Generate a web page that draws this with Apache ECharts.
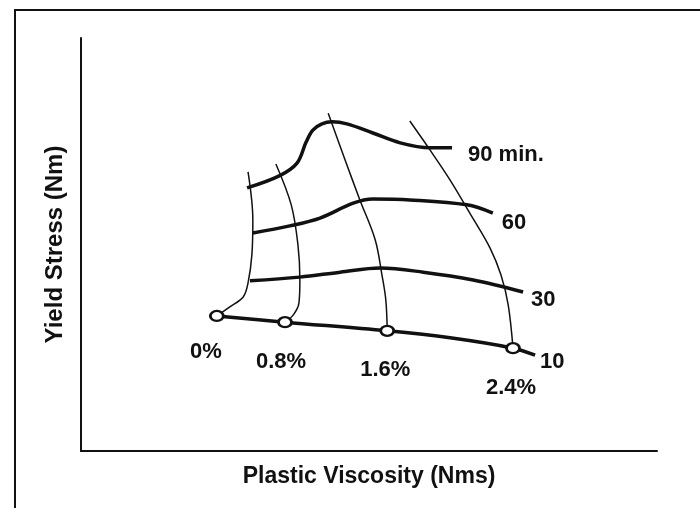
<!DOCTYPE html>
<html>
<head>
<meta charset="utf-8">
<script src="https://cdn.jsdelivr.net/npm/echarts@6/dist/echarts.min.js"></script>
<style>
  html, body { margin: 0; padding: 0; background: #fff; }
  #chart { width: 700px; height: 508px; }
</style>
</head>
<body>
<div id="chart"></div>
<script>
// curves of equal time (thick) - [plastic viscosity, yield stress], arbitrary units
const timeLabels = ['10', '30', '60', '90 min.'];
const time10 = [[2.83, 3.27], [4.25, 3.12], [6.38, 2.91], [7.69, 2.74], [9.00, 2.49], [9.46, 2.32]];
const time30 = [[3.52, 4.12], [4.56, 4.21], [5.40, 4.33], [6.23, 4.43], [7.13, 4.33], [8.17, 4.14], [9.21, 3.85]];
const time60 = [[3.58, 5.28], [4.35, 5.45], [4.98, 5.64], [5.67, 6.00], [6.08, 6.10], [6.85, 6.08], [8.04, 5.96], [8.58, 5.76]];
const time90 = [[3.46, 6.37], [4.13, 6.66], [4.50, 6.97], [4.69, 7.48], [4.83, 7.77], [5.02, 7.92], [5.23, 7.97],
                [5.54, 7.92], [6.08, 7.70], [6.65, 7.46], [7.27, 7.34], [7.73, 7.34]];

// curves of equal dosage (thin)
const pctLabels = ['0%', '0.8%', '1.6%', '2.4%'];
const pct00 = [[2.83, 3.27], [3.10, 3.49], [3.38, 3.73], [3.48, 4.07], [3.56, 4.75], [3.58, 5.59], [3.48, 6.76]];
const pct08 = [[4.25, 3.12], [4.42, 3.29], [4.54, 3.58], [4.56, 4.14], [4.52, 4.99], [4.38, 5.96], [4.06, 6.95]];
const pct16 = [[6.38, 2.91], [6.35, 3.66], [6.27, 4.26], [6.13, 5.11], [5.81, 6.08], [5.50, 7.05], [5.15, 8.18]];
const pct24 = [[9.00, 2.49], [8.90, 3.54], [8.75, 4.26], [8.52, 4.92], [8.10, 5.76], [7.69, 6.56], [7.27, 7.29], [6.85, 7.99]];

// measured points at 10 min
const startPoints = [[2.83, 3.27], [4.25, 3.12], [6.38, 2.91], [9.00, 2.49]];

const font = '"Liberation Sans", Arial, sans-serif';
const ink = '#111';

const chart = echarts.init(document.getElementById('chart'));

// label placement for each curve end (style only)
const timeLabelStyle = [
  { distance: 5, offset: [0, 7] },
  { distance: 8, offset: [0, 8] },
  { distance: 9, offset: [0, 10] },
  { distance: 16, offset: [0, 7] }
];
const pctLabelOffset = [[-11, 36], [-4, 40], [-2, 39], [-2, 40]];

function timeSeries(data, i) {
  return {
    type: 'line',
    data: data,
    smooth: 0.35,
    symbol: 'none',
    lineStyle: { color: ink, width: 3.5 },
    endLabel: {
      show: true,
      formatter: timeLabels[i],
      distance: timeLabelStyle[i].distance,
      offset: timeLabelStyle[i].offset,
      color: ink,
      fontFamily: font,
      fontWeight: 'bold',
      fontSize: 22
    },
    z: 3,
    silent: true
  };
}

function pctSeries(data) {
  return {
    type: 'line',
    data: data,
    smooth: 0.35,
    symbol: 'none',
    lineStyle: { color: ink, width: 1.5 },
    z: 2,
    silent: true
  };
}

const option = {
  backgroundColor: '#fff',
  animation: false,
  grid: { left: 81, right: 43, top: 38, bottom: 57 },
  xAxis: {
    type: 'value',
    min: 0,
    max: 12,
    name: 'Plastic Viscosity (Nms)',
    nameLocation: 'middle',
    nameGap: 14,
    nameTextStyle: { color: ink, fontFamily: font, fontWeight: 'bold', fontSize: 23 },
    axisLine: { show: true, onZero: false, lineStyle: { color: ink, width: 2 } },
    axisTick: { show: false },
    axisLabel: { show: false },
    splitLine: { show: false }
  },
  yAxis: {
    type: 'value',
    min: 0,
    max: 10,
    name: 'Yield Stress (Nm)',
    nameLocation: 'middle',
    nameGap: 14,
    nameTextStyle: { color: ink, fontFamily: font, fontWeight: 'bold', fontSize: 24 },
    axisLine: { show: true, onZero: false, lineStyle: { color: ink, width: 2 } },
    axisTick: { show: false },
    axisLabel: { show: false },
    splitLine: { show: false }
  },
  graphic: [{
    type: 'rect',
    shape: { x: 15, y: 10, width: 720, height: 540 },
    style: { fill: 'none', stroke: ink, lineWidth: 2 },
    silent: true
  }],
  series: [
    timeSeries(time10, 0),
    timeSeries(time30, 1),
    timeSeries(time60, 2),
    timeSeries(time90, 3),
    pctSeries(pct00),
    pctSeries(pct08),
    pctSeries(pct16),
    pctSeries(pct24),
    {
      type: 'scatter',
      data: startPoints.map((p, i) => ({
        value: p,
        label: {
          show: true,
          formatter: pctLabels[i],
          position: 'inside',
          offset: pctLabelOffset[i],
          color: ink,
          fontFamily: font,
          fontWeight: 'bold',
          fontSize: 22
        }
      })),
      symbol: 'circle',
      symbolSize: [13, 10],
      itemStyle: { color: '#fff', borderColor: ink, borderWidth: 2.5, opacity: 1 },
      z: 5,
      silent: true
    }
  ]
};

chart.setOption(option);
</script>
</body>
</html>
